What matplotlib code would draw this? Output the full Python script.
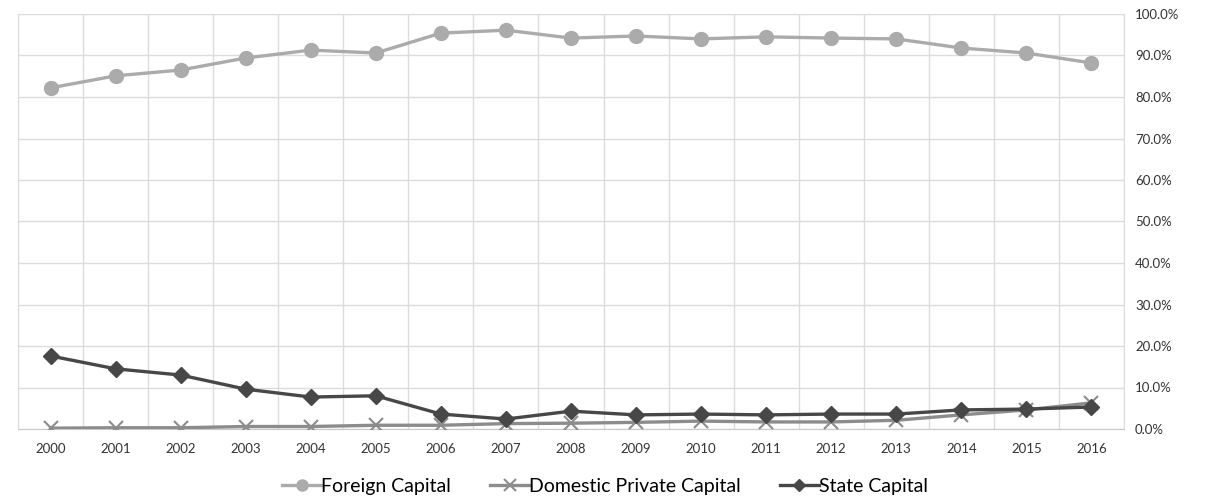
import numpy as np
import matplotlib.pyplot as plt
from matplotlib.ticker import PercentFormatter

years = [str(y) for y in range(2000, 2017)]
foreign = [82.2, 85.1, 86.5, 89.4, 91.3, 90.6, 95.4, 96.1, 94.2, 94.7, 94.0, 94.5, 94.2, 94.0, 91.8, 90.6, 88.2]
domestic = [0.2, 0.3, 0.3, 0.6, 0.6, 0.9, 0.9, 1.3, 1.4, 1.6, 1.9, 1.7, 1.7, 2.1, 3.4, 4.6, 6.3]
state = [17.6, 14.5, 13.0, 9.6, 7.7, 8.0, 3.6, 2.4, 4.3, 3.4, 3.6, 3.4, 3.6, 3.6, 4.6, 4.8, 5.3]

plt.rcParams['font.family'] = ['Lato', 'DejaVu Sans']

fig = plt.figure(figsize=(12.1, 5.01), dpi=100)
ax = fig.add_axes([18/1210, 1 - 429/501, (1124 - 18)/1210, (429 - 14)/501])

x = np.arange(len(years))
ax.plot(x, foreign, color='#ababab', lw=2.4, marker='o', ms=10, label='Foreign Capital', zorder=3)
ax.plot(x, domestic, color='#8c8c8c', lw=2.4, marker='x', ms=10, mew=1.5, label='Domestic Private Capital', zorder=3)
ax.plot(x, state, color='#474747', lw=2.4, marker='D', ms=8, label='State Capital', zorder=4)

ax.set_xlim(-0.5, len(years) - 0.5)
ax.set_ylim(0, 100)
ax.set_xticks(x)
ax.set_xticklabels(years, fontsize=9.5, color='#333333')
ax.set_xticks(np.arange(-0.5, len(years)), minor=True)
ax.set_yticks(np.arange(0, 101, 10))
ax.yaxis.set_major_formatter(PercentFormatter(decimals=1))
ax.yaxis.tick_right()
ax.tick_params(axis='y', labelsize=9.5, colors='#333333', length=0, pad=8)
ax.tick_params(axis='x', which='both', length=0, pad=10)

ax.grid(axis='y', color='#dcdcdc', lw=1)
ax.grid(axis='x', which='minor', color='#dcdcdc', lw=1)
ax.set_axisbelow(True)
for s in ['top', 'left', 'right']:
    ax.spines[s].set_color('#dcdcdc')
ax.spines['bottom'].set_color('#c8c8c8')

fig.legend(loc='lower center', ncol=3, frameon=False, fontsize=14,
           bbox_to_anchor=(0.5, -0.022), handlelength=2.0, handletextpad=0.0,
           columnspacing=2.0, markerscale=0.8)

fig.savefig('out.png', dpi=100)
